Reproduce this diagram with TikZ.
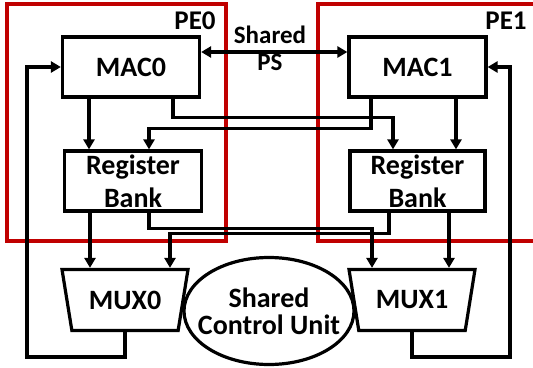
\documentclass[tikz,border=0pt]{standalone}
\usepackage{fontspec}
\setmainfont{Carlito}
\usepackage{tikz}
\usetikzlibrary{arrows,arrows.meta,shapes,positioning}
\usepackage{xcolor}
\definecolor{pered}{RGB}{192,0,0}
\tikzstyle{unit} = [draw, line width=3.2pt, minimum width=137pt, minimum height=60pt, inner sep=0pt, font=\fontsize{28}{33}\selectfont\bfseries, align=center]
\tikzstyle{mux} = [draw, line width=3.2pt, trapezium, shape border rotate=180, trapezium angle=62, trapezium stretches body, minimum width=126pt, minimum height=61pt, inner sep=0pt, font=\fontsize{28}{33}\selectfont\bfseries]
\tikzstyle{link} = [line width=3.4pt,-{Triangle[length=10pt,width=11pt]}]
\tikzstyle{pebox} = [line width=3.4pt, color=pered]

\begin{document}
\begin{tikzpicture}[x=1pt, y=-1pt]
\useasboundingbox (0,0) rectangle (533,367);

% PE frames
\draw[pebox] (7,4) rectangle (226,241);
\draw[pebox] (318,4) rectangle (545,241);
\node[font=\fontsize{27}{30}\selectfont\bfseries] (pe0) at (195,21) {PE0};
\node[font=\fontsize{27}{30}\selectfont\bfseries] (pe1) at (506,21) {PE1};

% Units
\node[unit] (mac0) at (131,67) {MAC0};
\node[unit] (mac1) at (417.5,67) {MAC1};
\node[unit] (rb0) at (133,181) {Register\\Bank};
\node[unit, minimum width=135pt] (rb1) at (417.5,181) {Register\\Bank};
\node[mux] (mux0) at (125,300) {MUX0};
\node[mux] (mux1) at (412,300) {MUX1};

% Shared control unit
\node[draw, ellipse, line width=3.2pt, minimum width=170pt, minimum height=107pt] (cu) at (269,311) {};
\node[font=\fontsize{28}{27}\selectfont\bfseries, align=center] (cutext) at (cu) {Shared\\Control Unit};

% Shared PS
\node[font=\fontsize{25}{27}\selectfont\bfseries, align=center] (ps) at (270,48) {Shared\\PS};
\draw[link, {Triangle[length=10pt,width=11pt]}-{Triangle[length=10pt,width=11pt]}] ([yshift=15pt]mac0.east) -- ([yshift=15pt]mac1.west);

% MAC to register banks
\draw[link] ([xshift=-42pt]mac0.south) -- ([xshift=-42pt]mac0.south |- rb0.north);
\draw[link] ([xshift=42pt]mac0.south) -- ++(0,19) -| ([xshift=-24.5pt]rb1.north);
\draw[link] ([xshift=-46.5pt]mac1.south) -- ++(0,30) -| ([xshift=16pt]rb0.north);
\draw[link] ([xshift=38.5pt]mac1.south) -- ([xshift=38.5pt]mac1.south |- rb1.north);

% Register banks to muxes
\draw[link] ([xshift=-43pt]rb0.south) -- ([xshift=-43pt]rb0.south |- mux0.north);
\draw[link] ([xshift=16pt]rb0.south) -- ++(0,16) -| ([xshift=-40pt]mux1.north);
\draw[link] ([xshift=-28.5pt]rb1.south) -- ++(0,21) -| ([xshift=45pt]mux0.north);
\draw[link] ([xshift=31.5pt]rb1.south) -- ([xshift=31.5pt]rb1.south |- mux1.north);

% Feedback
\coordinate (fb0) at (27,357);
\coordinate (fb1) at (510,357);
\draw[link] (mux0.south) |- (fb0) |- (mac0.west);
\draw[link] (mux1.south) |- (fb1) |- (mac1.east);
\end{tikzpicture}
\end{document}
